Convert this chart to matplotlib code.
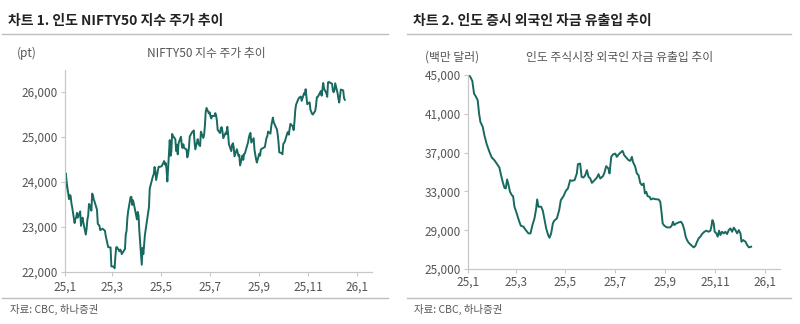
import matplotlib
matplotlib.use("Agg")
import matplotlib.pyplot as plt
from matplotlib.ticker import FuncFormatter
import pandas as pd

plt.rcParams['font.family'] = ['Noto Sans CJK KR', 'DejaVu Sans']

# ---------------- data: chart 1 (NIFTY50, daily close) ----------------
nifty_dates = [
    "2025-01-01","2025-01-02","2025-01-03","2025-01-06","2025-01-07","2025-01-08","2025-01-09","2025-01-10",
    "2025-01-13","2025-01-14","2025-01-15","2025-01-16","2025-01-17","2025-01-20","2025-01-21","2025-01-22",
    "2025-01-23","2025-01-24","2025-01-27","2025-01-28","2025-01-29","2025-01-30","2025-01-31","2025-02-01",
    "2025-02-03","2025-02-04","2025-02-05","2025-02-06","2025-02-07","2025-02-10","2025-02-11","2025-02-12",
    "2025-02-13","2025-02-14","2025-02-17","2025-02-18","2025-02-19","2025-02-20","2025-02-21","2025-02-24",
    "2025-02-25","2025-02-27","2025-02-28","2025-03-03","2025-03-04","2025-03-05","2025-03-06","2025-03-07",
    "2025-03-10","2025-03-11","2025-03-12","2025-03-13","2025-03-17","2025-03-18","2025-03-19","2025-03-20",
    "2025-03-21","2025-03-24","2025-03-25","2025-03-26","2025-03-27","2025-03-28","2025-04-01","2025-04-02",
    "2025-04-03","2025-04-04","2025-04-07","2025-04-08","2025-04-09","2025-04-11","2025-04-15","2025-04-16",
    "2025-04-17","2025-04-21","2025-04-22","2025-04-23","2025-04-24","2025-04-25","2025-04-28","2025-04-29",
    "2025-04-30","2025-05-02","2025-05-05","2025-05-06","2025-05-07","2025-05-08","2025-05-09","2025-05-12",
    "2025-05-13","2025-05-14","2025-05-15","2025-05-16","2025-05-19","2025-05-20","2025-05-21","2025-05-22",
    "2025-05-23","2025-05-26","2025-05-27","2025-05-28","2025-05-29","2025-05-30","2025-06-02","2025-06-03",
    "2025-06-04","2025-06-05","2025-06-06","2025-06-09","2025-06-10","2025-06-11","2025-06-12","2025-06-13",
    "2025-06-16","2025-06-17","2025-06-18","2025-06-19","2025-06-20","2025-06-23","2025-06-24","2025-06-25",
    "2025-06-26","2025-06-27","2025-06-30","2025-07-01","2025-07-02","2025-07-03","2025-07-04","2025-07-07",
    "2025-07-08","2025-07-09","2025-07-10","2025-07-11","2025-07-14","2025-07-15","2025-07-16","2025-07-17",
    "2025-07-18","2025-07-21","2025-07-22","2025-07-23","2025-07-24","2025-07-25","2025-07-28","2025-07-29",
    "2025-07-30","2025-07-31","2025-08-01","2025-08-04","2025-08-05","2025-08-06","2025-08-07","2025-08-08",
    "2025-08-11","2025-08-12","2025-08-13","2025-08-14","2025-08-18","2025-08-19","2025-08-20","2025-08-21",
    "2025-08-22","2025-08-25","2025-08-26","2025-08-28","2025-08-29","2025-09-01","2025-09-02","2025-09-03",
    "2025-09-04","2025-09-05","2025-09-08","2025-09-09","2025-09-10","2025-09-11","2025-09-12","2025-09-15",
    "2025-09-16","2025-09-17","2025-09-18","2025-09-19","2025-09-22","2025-09-23","2025-09-24","2025-09-25",
    "2025-09-26","2025-09-29","2025-09-30","2025-10-01","2025-10-03","2025-10-06","2025-10-07","2025-10-08",
    "2025-10-09","2025-10-10","2025-10-13","2025-10-14","2025-10-15","2025-10-16","2025-10-17","2025-10-20",
    "2025-10-21","2025-10-23","2025-10-24","2025-10-27","2025-10-28","2025-10-29","2025-10-30","2025-10-31",
    "2025-11-03","2025-11-04","2025-11-06","2025-11-07","2025-11-10","2025-11-11","2025-11-12","2025-11-13",
    "2025-11-14","2025-11-17","2025-11-18","2025-11-19","2025-11-20","2025-11-21","2025-11-24","2025-11-25",
    "2025-11-26","2025-11-27","2025-11-28","2025-12-01","2025-12-02","2025-12-03","2025-12-04","2025-12-05",
    "2025-12-08","2025-12-09","2025-12-10","2025-12-11","2025-12-12","2025-12-15","2025-12-16","2025-12-17",
]
nifty_values = [
    23690, 24188, 24005, 23616, 23708, 23689, 23527, 23432,
    23086, 23176, 23213, 23312, 23203, 23345, 23025, 23155,
    23205, 23092, 22829, 22957, 23163, 23250, 23508, 23482,
    23361, 23739, 23696, 23603, 23560, 23382, 23072, 23045,
    23031, 22929, 22960, 22945, 22933, 22913, 22796, 22553,
    22548, 22545, 22125, 22119, 22083, 22337, 22545, 22553,
    22460, 22498, 22471, 22397, 22509, 22834, 22908, 23191,
    23350, 23658, 23669, 23487, 23592, 23519, 23166, 23332,
    23250, 22904, 22162, 22536, 22399, 22829, 23329, 23437,
    23852, 24126, 24167, 24329, 24247, 24039, 24329, 24336,
    24334, 24347, 24461, 24380, 24414, 24274, 24008, 24925,
    24578, 24667, 25062, 25020, 24945, 24684, 24813, 24610,
    24853, 25001, 24826, 24752, 24834, 24751, 24717, 24543,
    24620, 24751, 25003, 25103, 25104, 25141, 24888, 24719,
    24947, 24853, 24812, 24793, 25112, 24972, 25044, 25245,
    25549, 25638, 25517, 25542, 25453, 25405, 25461, 25461,
    25523, 25476, 25355, 25150, 25082, 25196, 25212, 25111,
    24968, 25091, 25061, 25220, 25062, 24837, 24681, 24821,
    24855, 24768, 24565, 24723, 24650, 24574, 24596, 24363,
    24585, 24487, 24619, 24631, 24877, 24981, 25051, 25084,
    24870, 24968, 24712, 24501, 24427, 24625, 24580, 24715,
    24734, 24741, 24773, 24869, 24973, 25006, 25114, 25069,
    25239, 25330, 25424, 25327, 25202, 25170, 25057, 24891,
    24655, 24635, 24611, 24836, 24894, 25078, 25108, 25046,
    25182, 25285, 25227, 25146, 25324, 25585, 25710, 25843,
    25869, 25891, 25795, 25966, 25936, 26054, 25878, 25722,
    25763, 25598, 25510, 25492, 25574, 25695, 25876, 25879,
    25910, 26013, 25910, 26053, 26192, 26068, 25960, 25885,
    26205, 26216, 26203, 26176, 26032, 25986, 26034, 26186,
    25961, 25840, 25758, 25899, 26047, 26027, 25860, 25819,
]

# ---------------- data: chart 2 (foreign flows, USD mn) ----------------
flow_days = [
    0, 2.9, 5.7, 7.8, 9.9, 12.3, 14, 15.6, 18.5, 20.5, 23.4, 26.7, 29.6, 32.8, 35.7, 39, 41, 43,
    45.2, 46.8, 48.4, 50, 52, 54.2, 55.8, 57.5, 60.3, 63.2, 65.3, 68.6, 71.4, 74.7, 77.2, 79.6,
    82.1, 84.2, 85.4, 87, 90.3, 92.4, 94.4, 96.5, 98.9, 100.6, 102.6, 104.7, 106.3, 109.6, 112.5,
    114.5, 117.8, 120.7, 123.2, 126, 128, 131.4, 134.2, 135.5, 138.3, 140, 142.4, 144.5, 146.6,
    148.6, 150.7, 152.7, 156, 158.9, 160.9, 163, 166.3, 168, 170.3, 173, 174.4, 176.5, 178.5,
    181.4, 183.4, 185.5, 187.5, 190.4, 192.5, 194.9, 197.8, 199.9, 201.9, 203.2, 206, 208, 210.1,
    212.1, 214.2, 216.3, 217.9, 219.6, 221.2, 223.7, 225.3, 227.8, 230.6, 234.8, 236.8, 238.5,
    239.7, 241.8, 245, 249.1, 251.2, 252.4, 254, 256.5, 259.4, 262.3, 264.3, 266.4, 268, 269.7,
    271.7, 274.6, 277.9, 279.9, 282, 284, 286.1, 288.1, 291, 293.5, 296.3, 298.4, 299.6, 300.9,
    302.5, 303.7, 305.8, 307.4, 309.1, 310.7, 312.7, 314.8, 316.9, 318.9, 321, 323, 325.1, 327.2,
    329.2, 331.3, 333.3, 335.4, 336.6, 338.7, 341.6, 343.6, 345.7, 348.5,
]
flow_values = [
    45000, 44860, 44380, 43080, 42800, 42390, 41020, 40160, 39650, 38790, 37860, 37080, 36490,
    36220, 35870, 35460, 34670, 33990, 33370, 33300, 34230, 33750, 32960, 32620, 32510, 31420,
    30730, 29940, 29460, 29360, 29010, 28670, 28670, 29530, 30210, 31240, 32170, 31420, 31420,
    31000, 30110, 29190, 28500, 28220, 28670, 29700, 29970, 30210, 31070, 32100, 32510, 33060,
    33300, 34160, 34090, 34160, 34850, 35810, 35870, 34500, 34430, 34670, 35190, 34500, 34330,
    33880, 34160, 34430, 34780, 34330, 34570, 34900, 35600, 35360, 34850, 36560, 36800, 36900,
    36560, 36800, 36970, 37180, 36730, 36490, 36220, 36150, 36560, 36050, 35530, 34850, 34670,
    33880, 33640, 33820, 32790, 32960, 32510, 32440, 32170, 32270, 32200, 32170, 31930, 30730,
    29700, 29460, 29290, 29290, 29530, 29870, 29530, 29700, 29800, 29870, 29600, 29010, 28330,
    27980, 27710, 27470, 27230, 27370, 27810, 28160, 28330, 28600, 28840, 28950, 28840, 28950,
    29360, 30040, 29700, 28840, 28670, 28330, 28950, 28500, 28840, 28670, 28840, 28600, 29010,
    29190, 28840, 29260, 29010, 28670, 29010, 28670, 27810, 27980, 27810, 27470, 27230, 27300,
]

x_tick_dates = ["2025-01-01", "2025-03-01", "2025-05-01", "2025-07-01", "2025-09-01", "2025-11-01", "2026-01-01"]
x_tick_labels = ["25,1", "25,3", "25,5", "25,7", "25,9", "25,11", "26,1"]
y1_ticks = [22000, 23000, 24000, 25000, 26000]
y2_ticks = [25000, 29000, 33000, 37000, 41000, 45000]

# ---------------- styling ----------------
LINE = "#18695f"
SPINE = "#c8c8c8"
TXT = "#555555"
DARK = "#222222"

fig = plt.figure(figsize=(8.0, 3.24), dpi=100)
W, H = 800, 324

def fx(px):
    return px / W

def fy(py):
    return 1 - py / H

start = pd.Timestamp("2025-01-01")
xmax = start + pd.Timedelta(days=384)
tick_dt = pd.to_datetime(x_tick_dates)

def style_axes(ax, yticks):
    for s in ("top", "right"):
        ax.spines[s].set_visible(False)
    for s in ("left", "bottom"):
        ax.spines[s].set_color(SPINE)
        ax.spines[s].set_linewidth(0.9)
    ax.set_xticks(tick_dt)
    ax.set_xticklabels(x_tick_labels)
    ax.set_yticks(yticks)
    ax.yaxis.set_major_formatter(FuncFormatter(lambda v, p: f"{int(v):,}"))
    ax.tick_params(axis="both", colors=SPINE, length=3, width=0.8, labelsize=8.5,
                   labelcolor=TXT, pad=2)
    ax.set_xlim(start, xmax)

# chart 1
ax1 = fig.add_axes([fx(65), fy(272), fx(372 - 65), (272 - 70) / H])
ax1.plot(pd.to_datetime(nifty_dates), nifty_values, color=LINE, lw=1.4)
ax1.set_ylim(22000, 26480)
style_axes(ax1, y1_ticks)
ax1.tick_params(axis="x", pad=3)

# chart 2
ax2 = fig.add_axes([fx(467.7), fy(269), fx(780 - 467.7), (269 - 75) / H])
flow_dt = [start + pd.Timedelta(days=d) for d in flow_days]
ax2.plot(flow_dt, flow_values, color=LINE, lw=1.4)
ax2.set_ylim(25000, 45000)
style_axes(ax2, y2_ticks)

# titles and frame lines
fig.text(fx(8), fy(21), "차트 1. 인도 NIFTY50 지수 주가 추이", fontsize=10, fontweight="bold",
         color=DARK, va="center", ha="left")
fig.text(fx(413), fy(21), "차트 2. 인도 증시 외국인 자금 유출입 추이", fontsize=10, fontweight="bold",
         color=DARK, va="center", ha="left")

for x0, x1 in ((2, 388), (407, 791)):
    fig.add_artist(plt.Line2D([fx(x0), fx(x1)], [fy(34), fy(34)], color="#bdbdbd", lw=1.0))
    fig.add_artist(plt.Line2D([fx(x0), fx(x1)], [fy(298), fy(298)], color="#bdbdbd", lw=1.0))

fig.text(fx(206), fy(53), "NIFTY50 지수 주가 추이", fontsize=8.5, color=TXT, ha="center", va="center")
fig.text(fx(17), fy(53), "(pt)", fontsize=8.5, color=TXT, ha="left", va="center")
fig.text(fx(620), fy(57), "인도 주식시장 외국인 자금 유출입 추이", fontsize=8.5, color=TXT, ha="center", va="center")
fig.text(fx(425), fy(57), "(백만 달러)", fontsize=8.5, color=TXT, ha="left", va="center")

fig.text(fx(10), fy(309), "자료: CBC, 하나증권", fontsize=7.5, color=TXT, ha="left", va="center")
fig.text(fx(414), fy(309), "자료: CBC, 하나증권", fontsize=7.5, color=TXT, ha="left", va="center")

fig.savefig("out.png", dpi=100, facecolor="white")
